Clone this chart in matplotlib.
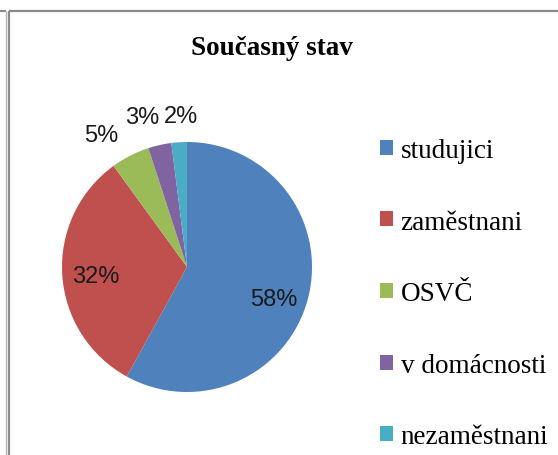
import numpy as np
import matplotlib
matplotlib.use("Agg")
from matplotlib import pyplot as plt
from matplotlib.lines import Line2D

# data
labels = ['studujici', 'zaměstnani', 'OSVČ', 'v domácnosti', 'nezaměstnani']
values = [58, 32, 5, 3, 2]
colors = ['#4F81BD', '#C0504D', '#9BBB59', '#8064A2', '#4BACC6']
title = 'Současný stav'

W, H = 558, 456
fig = plt.figure(figsize=(W/100, H/100), dpi=100)
fig.patch.set_facecolor('white')

# pie axes: center (187, 268) px, radius 125 px
cx, cy, r = 187, 268, 125
ax = fig.add_axes([(cx-r)/W, (H-cy-r)/H, 2*r/W, 2*r/H])
wedges, texts, autotexts = ax.pie(values, colors=colors, startangle=90,
                                  counterclock=False, autopct='%1.0f%%',
                                  pctdistance=0.72,
                                  wedgeprops=dict(linewidth=0),
                                  textprops=dict(family='Liberation Sans', fontsize=17, color='#1a1a1a'))
ax.set_xlim(-1, 1)
ax.set_ylim(-1, 1)

# label placement like excel "best fit": small slices outside, spread a bit
nudge = [-6, 2, 6, 4, -1.3]          # degrees
dist = [0.74, 0.73, 1.26, 1.25, 1.21]  # radius units
for w, t, d, rr in zip(wedges, autotexts, nudge, dist):
    ang = np.deg2rad((w.theta1 + w.theta2) / 2 + d)
    t.set_position((rr*np.cos(ang), rr*np.sin(ang)))
    t.set_clip_on(False)

fig.text(272/W, 1-49/H, title, ha='center', va='center',
         family='Liberation Serif', fontweight='bold', fontsize=19.5)

fig.legend(wedges, labels, loc='upper left', bbox_to_anchor=(380/W, 1-139/H),
           frameon=False, prop=dict(family='Liberation Serif', size=19.5),
           handlelength=0.48, handleheight=0.48, handletextpad=0.28,
           labelspacing=1.72, borderpad=0, borderaxespad=0)

# border lines
def px_line(x0, y0, x1, y1, c, lw):
    fig.add_artist(Line2D([x0/W, x1/W], [1-y0/H, 1-y1/H], color=c, lw=lw,
                          transform=fig.transFigure, solid_capstyle='butt'))

px_line(0, 12, 5.5, 12, '#8a8a8a', 1.5)
px_line(5.5, 12, 5.5, H, '#b5b5b5', 1.0)
px_line(8.5, 12, 8.5, H, '#8a8a8a', 1.6)
px_line(8.5, 12, W, 12, '#8a8a8a', 1.6)

fig.savefig('out.png', dpi=100)
